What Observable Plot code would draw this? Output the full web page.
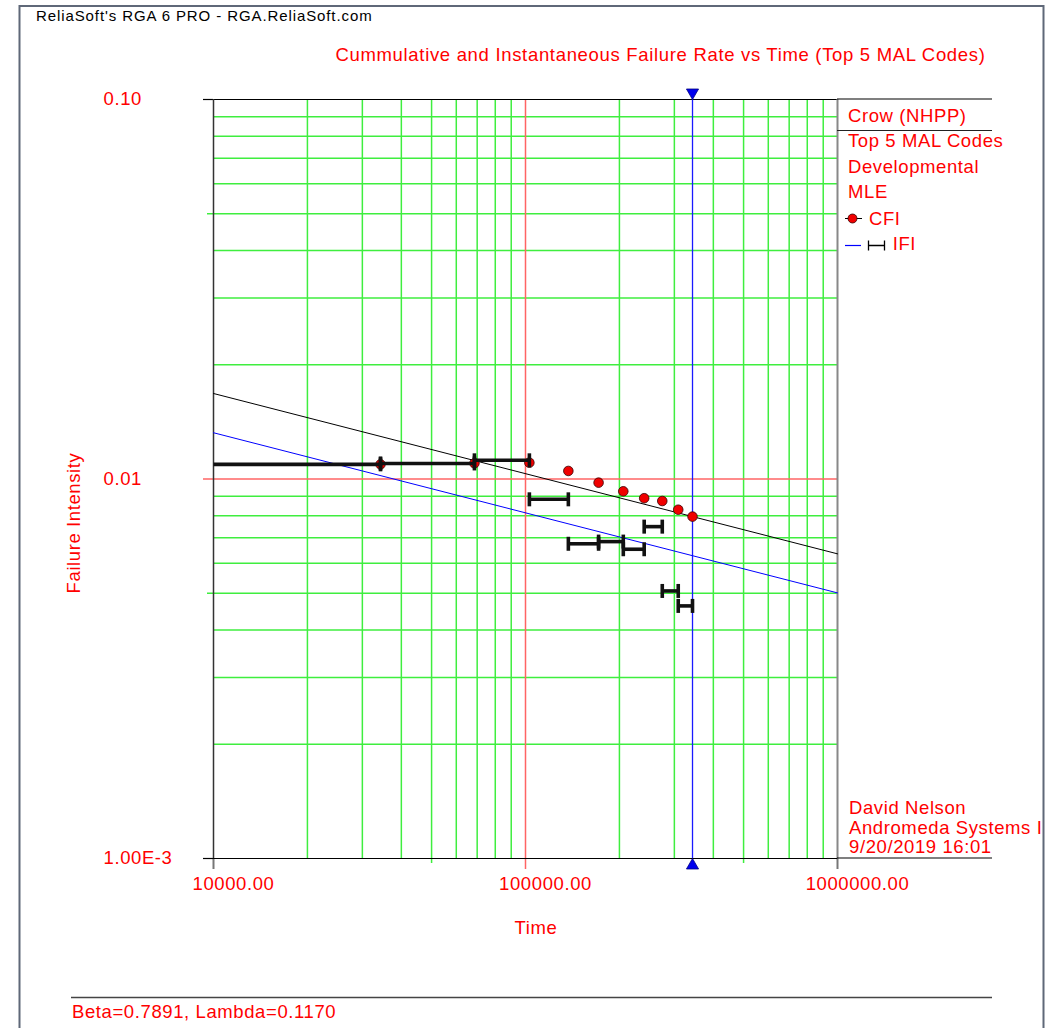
<!DOCTYPE html>
<html><head><meta charset="utf-8">
<script src="https://cdn.jsdelivr.net/npm/d3@7"></script>
<script src="https://cdn.jsdelivr.net/npm/@observablehq/plot@0.6"></script>
<style>body{margin:0;background:#fff} svg{display:block}</style>
</head><body><div id="chart"></div>
<script>
// ---- data ----
const cfiTime  = [34300, 68600, 102900, 137200, 171500, 205800, 240100, 274400, 308700, 343000];
const cfiValue = [0.01093, 0.01100, 0.01104, 0.01050, 0.00978, 0.00928, 0.00890, 0.00875, 0.00830, 0.00796];
const ifiStart = [0, 34300, 68600, 102900, 137200, 171500, 205800, 240100, 274400, 308700];
const ifiEnd   = [34300, 68600, 102900, 137200, 171500, 205800, 240100, 274400, 308700, 343000];
const ifiValue = [0.01093, 0.01099, 0.01120, 0.00884, 0.00675, 0.00684, 0.00653, 0.00749, 0.00507, 0.00463];
const modelTime = [10000, 1000000];
const cfiModel  = [0.0168, 0.00635];
const ifiModel  = [0.01324, 0.00501];
const xTicks = [10000, 100000, 1000000];
const xTickLabels = ["10000.00", "100000.00", "1000000.00"];
const yTicks = [0.1, 0.01, 0.001];
const yTickLabels = ["0.10", "0.01", "1.00E-3"];
const xGrid = [20000, 30000, 40000, 50000, 60000, 70000, 80000, 90000,
               200000, 300000, 400000, 500000, 600000, 700000, 800000, 900000];
const yGrid = [0.002, 0.003, 0.004, 0.005, 0.006, 0.007, 0.008, 0.009,
               0.02, 0.03, 0.04, 0.05, 0.06, 0.07, 0.08, 0.09];
const xMidTicks = [50000, 500000];
const yMidTicks = [0.05, 0.005];
const headerText = "ReliaSoft's RGA 6 PRO - RGA.ReliaSoft.com";
const titleText = "Cummulative and Instantaneous Failure Rate vs Time (Top 5 MAL Codes)";
const xLabel = "Time";
const yLabel = "Failure Intensity";
const legendHead = "Crow (NHPP)";
const legendInfo = ["Top 5 MAL Codes", "Developmental", "MLE"];
const seriesNames = ["CFI", "IFI"];
const userLines = ["David Nelson", "Andromeda Systems I", "9/20/2019 16:01"];
const paramText = "Beta=0.7891, Lambda=0.1170";

// ---- styles ----
const FONT = "'Liberation Sans', Arial, sans-serif";
const RED = "#ff0000";
const GREEN = "#3fee3f";
const LRED = "#ff6464";
const BLUE = "#1a1aff";

const xDom = [xTicks[0], xTicks[2]];
const cfi = cfiTime.map((t, i) => ({t, v: cfiValue[i]}));
const ifi = ifiValue.map((v, i) => ({x1: Math.max(ifiStart[i], xDom[0]), x2: ifiEnd[i], v}));
const caps = [];
ifiValue.forEach((v, i) => {
  if (ifiStart[i] >= xDom[0]) caps.push({t: ifiStart[i], v});
  caps.push({t: ifiEnd[i], v});
});
const model = modelTime.map((t, i) => ({t, cfi: cfiModel[i], ifi: ifiModel[i]}));
const vbar = {draw(ctx, size) { const h = Math.sqrt(size / Math.PI); ctx.moveTo(0, -h); ctx.lineTo(0, h); }};
const tEnd = cfiTime[cfiTime.length - 1];
const blank = () => "";

const plot = Plot.plot({
  width: 1051, height: 1028,
  marginLeft: 213, marginRight: 214, marginTop: 99, marginBottom: 170,
  style: {fontFamily: FONT, fontSize: "18.5px", background: "white", overflow: "visible", letterSpacing: "0.6px"},
  x: {type: "log", domain: xDom, axis: null},
  y: {type: "log", domain: [yTicks[2], yTicks[0]], axis: null},
  marks: [
    Plot.ruleX(xGrid, {stroke: GREEN, strokeWidth: 1.5}),
    Plot.ruleY(yGrid, {stroke: GREEN, strokeWidth: 1.5}),
    Plot.ruleX([xTicks[1]], {stroke: LRED, strokeWidth: 1.5}),
    Plot.ruleY([yTicks[1]], {stroke: LRED, strokeWidth: 1.5}),
    Plot.axisX(xMidTicks, {tickSize: 5, stroke: GREEN, strokeWidth: 1.5, tickFormat: blank, label: null}),
    Plot.axisX([xTicks[1]], {tickSize: 11, stroke: LRED, strokeWidth: 1.5, tickFormat: blank, label: null}),
    Plot.axisX([xTicks[0], xTicks[2]], {tickSize: 11, stroke: "#777", strokeWidth: 2, tickFormat: blank, label: null}),
    Plot.axisY(yMidTicks, {tickSize: 6, stroke: GREEN, strokeWidth: 1.5, tickFormat: blank, label: null}),
    Plot.axisY([yTicks[1]], {tickSize: 10, stroke: LRED, strokeWidth: 1.5, tickFormat: blank, label: null}),
    Plot.axisY([yTicks[0], yTicks[2]], {tickSize: 10, stroke: "#000", strokeWidth: 1.2, tickFormat: blank, label: null}),
    Plot.ruleY([yTicks[0], yTicks[2]], {stroke: "#000", strokeWidth: 1.2}),
    Plot.ruleX([xDom[0]], {stroke: "#333", strokeWidth: 1.5}),
    Plot.ruleX([xDom[1]], {stroke: "#888", strokeWidth: 2}),
    Plot.ruleX([tEnd], {stroke: BLUE, strokeWidth: 1.3}),
    Plot.dot([tEnd], {x: d => d, frameAnchor: "top", dy: -7, symbol: "triangle", r: 4.5, rotate: 180, fill: "#0000ee", stroke: "#000080", strokeWidth: 0.8}),
    Plot.dot([tEnd], {x: d => d, frameAnchor: "bottom", dy: 7, symbol: "triangle", r: 4.5, fill: "#0000ee", stroke: "#000080", strokeWidth: 0.8}),
    Plot.line(model, {x: "t", y: "cfi", stroke: "#000", strokeWidth: 1}),
    Plot.line(model, {x: "t", y: "ifi", stroke: "#0000ff", strokeWidth: 1}),
    Plot.dot(cfi, {x: "t", y: "v", r: 4.8, fill: "#f00000", stroke: "#300", strokeWidth: 0.8}),
    Plot.link(ifi, {x1: "x1", x2: "x2", y1: "v", y2: "v", stroke: "#111", strokeWidth: 3.6}),
    Plot.dot(caps, {x: "t", y: "v", symbol: vbar, r: 7, stroke: "#111", strokeWidth: 3.6, fill: "none"}),
    Plot.text(yTicks, {y: d => d, text: (d, i) => yTickLabels[i], frameAnchor: "left", dx: -110, textAnchor: "start", fill: RED}),
    Plot.text(xTicks, {x: d => d, text: (d, i) => xTickLabels[i], frameAnchor: "bottom", dy: 31, dx: 20, fill: RED})
  ]
});
document.getElementById("chart").appendChild(plot);

const svg = d3.select(plot);
const ys = plot.scale("y"), xs = plot.scale("x");
const xR = xs.apply(xDom[1]);
const yTop = ys.apply(yTicks[0]), yBot = ys.apply(yTicks[2]);
const g = svg.append("g").attr("font-family", FONT).attr("font-size", 18.5).attr("fill", RED)
  .attr("text-anchor", "start").style("letter-spacing", "0.6px");

// frame extensions
g.append("line").attr("x1", xR).attr("x2", 992).attr("y1", yTop).attr("y2", yTop).attr("stroke", "#000").attr("stroke-width", 1.2);
g.append("line").attr("x1", xR).attr("x2", 992).attr("y1", yBot).attr("y2", yBot).attr("stroke", "#000").attr("stroke-width", 1.2);
g.append("line").attr("x1", xR).attr("x2", 992).attr("y1", 130.5).attr("y2", 130.5).attr("stroke", "#222").attr("stroke-width", 1.2);
g.append("line").attr("x1", 71).attr("x2", 992).attr("y1", 997.5).attr("y2", 997.5).attr("stroke", "#444").attr("stroke-width", 1.5);
g.append("path").attr("d", "M19.5,1028V6H1043.5V1028").attr("fill", "none").attr("stroke", "#5f6878").attr("stroke-width", 2);

// header & titles
g.append("text").attr("x", 36).attr("y", 21.3).attr("fill", "#000").attr("font-size", 15).style("letter-spacing", "0.9px").text(headerText);
g.append("text").attr("x", 660.5).attr("y", 60.5).attr("text-anchor", "middle").style("letter-spacing", "0.68px").text(titleText);
g.append("text").attr("x", 536).attr("y", 934).attr("text-anchor", "middle").text(xLabel);
g.append("text").attr("transform", "translate(80,523) rotate(-90)").attr("text-anchor", "middle").text(yLabel);

// legend
g.append("text").attr("x", 848).attr("y", 121.7).text(legendHead);
legendInfo.forEach((s, i) => g.append("text").attr("x", 848).attr("y", [147, 173.3, 198.3][i]).text(s));
g.append("line").attr("x1", 845).attr("x2", 862).attr("y1", 218.5).attr("y2", 218.5).attr("stroke", "#000").attr("stroke-width", 1);
g.append("circle").attr("cx", 852.5).attr("cy", 218.5).attr("r", 4.5).attr("fill", "#f00000").attr("stroke", "#300").attr("stroke-width", 0.8);
g.append("text").attr("x", 869).attr("y", 225).text(seriesNames[0]);
g.append("line").attr("x1", 845).attr("x2", 861).attr("y1", 245.5).attr("y2", 245.5).attr("stroke", "#0000ff").attr("stroke-width", 1.2);
g.append("path").attr("d", "M868.5,240.5V250.5M868.5,245.5H884.5M884.5,240.5V250.5").attr("stroke", "#000").attr("stroke-width", 1.3).attr("fill", "none");
g.append("text").attr("x", 892.7).attr("y", 250).text(seriesNames[1]);

// user info
userLines.forEach((s, i) => g.append("text").attr("x", 849).attr("y", [814.3, 834.3, 853.3][i]).text(s));

g.append("text").attr("x", 72).attr("y", 1018.3).text(paramText);
</script>
</body></html>
